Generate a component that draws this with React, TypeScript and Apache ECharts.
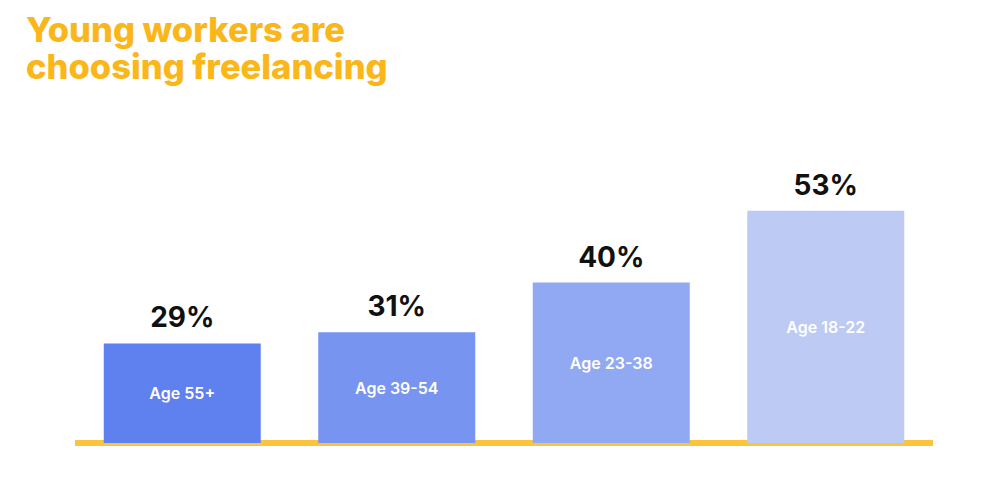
import React, { useEffect, useRef } from "react";
import * as echarts from "echarts";

const categories = ["Age 55+", "Age 39-54", "Age 23-38", "Age 18-22"];
const values = [29, 31, 40, 53];
const barColors = ["#5f80ef", "#7694f0", "#91a9f2", "#bdcaf3"];
const titleLines = ["Young workers are", "choosing freelancing"];

export default function App() {
  const ref = useRef<HTMLDivElement>(null);
  useEffect(() => {
    if (!ref.current) return;
    const chart = echarts.init(ref.current, undefined, { renderer: "svg" });
    chart.setOption({
      animation: false,
      backgroundColor: "#ffffff",
      title: {
        text: titleLines.join("\n"),
        left: 21,
        top: 6,
        textStyle: {
          color: "#fbb619",
          fontFamily: "Inter",
          fontWeight: 800,
          fontSize: 34.5,
          lineHeight: 37,
        },
      },
      grid: { left: 75, right: 67, top: 100, bottom: 34 },
      xAxis: {
        type: "category",
        data: categories,
        axisLine: { show: true, lineStyle: { color: "#fcc33d", width: 6, cap: "butt" } },
        axisTick: { show: false },
        axisLabel: { show: false },
      },
      yAxis: {
        type: "value",
        min: 11,
        max: 73,
        show: false,
        splitLine: { show: false },
      },
      series: [
        {
          type: "bar",
          barWidth: 157,
          data: values.map((v, i) => ({ value: v, itemStyle: { color: barColors[i] } })),
          label: {
            show: true,
            position: "inside",
            formatter: "{b}",
            color: "#ffffff",
            fontFamily: "Inter",
            fontWeight: 600,
            fontSize: 16,
          },
        },
        {
          type: "bar",
          barWidth: 157,
          barGap: "-100%",
          data: values,
          itemStyle: { color: "rgba(0,0,0,0)" },
          label: {
            show: true,
            position: "top",
            distance: 12,
            formatter: "{c}%",
            color: "#111111",
            fontFamily: "Inter",
            fontWeight: 700,
            fontSize: 28,
          },
        },
      ],
    });
    return () => chart.dispose();
  }, []);
  return (
    <div
      ref={ref}
      style={{ position: "fixed", left: 0, top: 0, width: 1000, height: 477 }}
    />
  );
}
